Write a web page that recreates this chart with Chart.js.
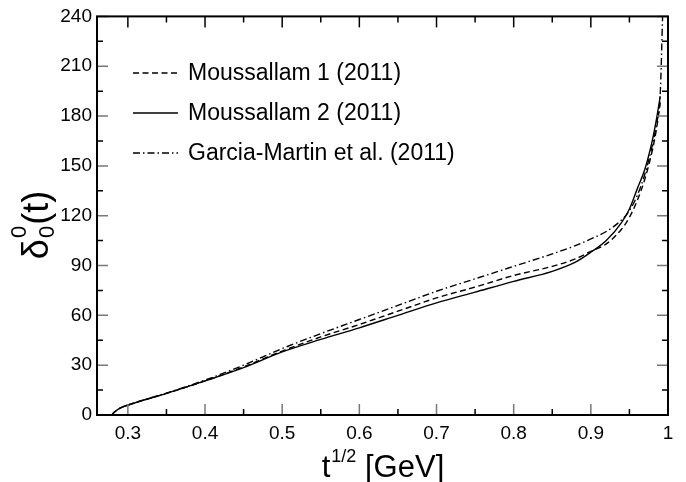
<!DOCTYPE html>
<html>
<head>
<meta charset="utf-8">
<script src="https://cdn.jsdelivr.net/npm/chart.js@4"></script>
<style>
  body { margin: 0; background: #fff; }
  #wrap { width: 686px; height: 482px; }
</style>
</head>
<body>
<div id="wrap"><canvas id="phaseChart" width="686" height="482"></canvas></div>
<script>
// sqrt(t) in GeV
const tGeV = [0.2791, 0.282, 0.286, 0.29, 0.3, 0.35, 0.4, 0.45, 0.5, 0.55, 0.6, 0.65, 0.7, 0.75, 0.8, 0.85, 0.88, 0.9, 0.92, 0.94, 0.95, 0.96, 0.97, 0.98, 0.985, 0.99];
const moussallam1 = [0, 1.5, 3, 4.2, 6, 13, 20.5, 29, 38.5, 47, 54.5, 62.5, 70.5, 77, 84, 89.5, 94, 98.5, 103, 112, 119, 129, 142, 160, 172, 188];
const moussallam2 = [0, 1.5, 3, 4.2, 6, 13, 20.5, 28.5, 38, 45.5, 52.5, 60, 67.5, 74, 80.5, 86.5, 92, 98, 105, 116, 124, 136, 148, 166, 178, 192];
const garciaT = [0.2791, 0.282, 0.286, 0.29, 0.3, 0.35, 0.4, 0.45, 0.5, 0.55, 0.6, 0.65, 0.7, 0.75, 0.8, 0.85, 0.88, 0.9, 0.92, 0.94, 0.95, 0.96, 0.97, 0.98, 0.985, 0.99, 0.993];
const garciaMartin = [0, 1.5, 3, 4.2, 6, 13.2, 21, 30, 40, 49, 57.5, 66, 74.5, 82, 89.5, 97, 102, 106, 110.5, 117.5, 123, 132, 145, 163, 175, 194, 240];

const xTicks = [0.3, 0.4, 0.5, 0.6, 0.7, 0.8, 0.9, 1.0];
const xTickLabels = ['0.3', '0.4', '0.5', '0.6', '0.7', '0.8', '0.9', '1'];
const yTicks = [0, 30, 60, 90, 120, 150, 180, 210, 240];

const FONT = "'Liberation Sans', Arial, sans-serif";

function pts(xs, ys) {
    return xs.map((x, i) => ({ x: x, y: ys[i] }));
}

// inward ticks on all four sides + frame
const frameTicks = {
    id: 'frameTicks',
    afterDatasetsDraw(chart) {
        const { ctx, chartArea: a, scales } = chart;
        const xs = scales.x, ys = scales.y;
        ctx.save();
        ctx.lineWidth = 1.5;
        // minor ticks
        ctx.strokeStyle = '#000';
        for (let v = 0.35; v < 1.0; v += 0.1) {
            const px = xs.getPixelForValue(v);
            ctx.beginPath();
            ctx.moveTo(px, a.bottom); ctx.lineTo(px, a.bottom - 6);
            ctx.moveTo(px, a.top); ctx.lineTo(px, a.top + 6);
            ctx.stroke();
        }
        for (let v = 15; v < 240; v += 30) {
            const py = ys.getPixelForValue(v);
            ctx.beginPath();
            ctx.moveTo(a.left, py); ctx.lineTo(a.left + 6, py);
            ctx.moveTo(a.right, py); ctx.lineTo(a.right - 6, py);
            ctx.stroke();
        }
        // major ticks
        ctx.strokeStyle = '#777';
        xTicks.forEach(v => {
            const px = xs.getPixelForValue(v);
            ctx.beginPath();
            ctx.moveTo(px, a.bottom); ctx.lineTo(px, a.bottom - 11);
            ctx.stroke();
            ctx.strokeStyle = '#000';
            ctx.beginPath();
            ctx.moveTo(px, a.top); ctx.lineTo(px, a.top + 11);
            ctx.stroke();
            ctx.strokeStyle = '#777';
        });
        yTicks.forEach(v => {
            const py = ys.getPixelForValue(v);
            ctx.beginPath();
            ctx.moveTo(a.left, py); ctx.lineTo(a.left + 11, py);
            ctx.moveTo(a.right, py); ctx.lineTo(a.right - 11, py);
            ctx.stroke();
        });
        ctx.strokeStyle = '#000';
        ctx.lineWidth = 2;
        ctx.strokeRect(a.left, a.top, a.right - a.left, a.bottom - a.top);
        ctx.restore();
    }
};

// legend with line styles taken from the datasets
const lineLegend = {
    id: 'lineLegend',
    afterDraw(chart) {
        const ctx = chart.ctx;
        const rows = [73, 113, 153];
        ctx.save();
        ctx.font = '23px ' + FONT;
        ctx.textBaseline = 'middle';
        ctx.fillStyle = '#000';
        chart.data.datasets.forEach((ds, i) => {
            const y = rows[i];
            ctx.strokeStyle = '#000';
            ctx.lineWidth = 1.4;
            ctx.setLineDash(ds.borderDash || []);
            ctx.beginPath();
            ctx.moveTo(133, y); ctx.lineTo(178, y);
            ctx.stroke();
            ctx.setLineDash([]);
            ctx.fillText(ds.label, 188, y + 1);
        });
        ctx.restore();
    }
};

// axis titles with super/subscripts
const axisTitles = {
    id: 'axisTitles',
    afterDraw(chart) {
        const ctx = chart.ctx;
        ctx.save();
        ctx.fillStyle = '#000';
        ctx.textBaseline = 'alphabetic';
        // x title: t^{1/2} [GeV]
        const big = '31px ' + FONT, small = '18px ' + FONT;
        ctx.font = big; const w1 = ctx.measureText('t').width;
        ctx.font = small; const w2 = ctx.measureText('1/2').width;
        ctx.font = big; const w3 = ctx.measureText(' [GeV]').width;
        let x = 383 - (w1 + w2 + w3 + 1) / 2;
        const base = 477;
        ctx.font = big; ctx.fillText('t', x, base); x += w1 + 1;
        ctx.font = small; ctx.fillText('1/2', x, base - 15); x += w2;
        ctx.font = big; ctx.fillText(' [GeV]', x, base);

        // y title: delta_0^0(t), rotated
        ctx.translate(48, 226);
        ctx.rotate(-Math.PI / 2);
        const yb = '36px ' + FONT, ys = '22px ' + FONT;
        ctx.font = yb; const d = ctx.measureText('\u03b4').width;
        ctx.font = ys; const z = ctx.measureText('0').width;
        ctx.font = yb; const p = ctx.measureText('(t)').width;
        let u = -(d + z + p) / 2;
        ctx.font = yb; ctx.fillText('\u03b4', u, 0); u += d + 1;
        ctx.font = ys; ctx.fillText('0', u, 6); ctx.fillText('0', u, -22); u += z + 1;
        ctx.font = yb; ctx.fillText('(t)', u, 0);
        ctx.restore();
    }
};

const ctx = document.getElementById('phaseChart').getContext('2d');

new Chart(ctx, {
    type: 'scatter',
    data: {
        datasets: [{
            label: 'Moussallam 1 (2011)',
            data: pts(tGeV, moussallam1),
            borderDash: [6, 3.5]
        }, {
            label: 'Moussallam 2 (2011)',
            data: pts(tGeV, moussallam2),
            borderDash: []
        }, {
            label: 'Garcia-Martin et al. (2011)',
            data: pts(garciaT, garciaMartin),
            borderDash: [7, 3, 1.5, 3]
        }]
    },
    options: {
        responsive: false,
        animation: false,
        showLine: true,
        layout: { padding: { left: 0, top: 16, right: 18, bottom: 0 } },
        elements: {
            point: { radius: 0 },
            line: {
                borderColor: '#000',
                borderWidth: 1.4,
                fill: false,
                cubicInterpolationMode: 'monotone'
            }
        },
        plugins: {
            legend: { display: false },
            tooltip: { enabled: false }
        },
        scales: {
            x: {
                type: 'linear',
                min: 0.26,
                max: 1.0,
                afterFit(scale) { scale.height = 67; },
                afterBuildTicks(scale) { scale.ticks = xTicks.map(v => ({ value: v })); },
                grid: { display: false, drawTicks: false },
                border: { display: false },
                ticks: {
                    padding: 7,
                    color: '#000',
                    font: { family: FONT, size: 19 },
                    callback: (v) => xTickLabels[xTicks.findIndex(t => Math.abs(t - v) < 1e-6)],
                    maxRotation: 0
                }
            },
            y: {
                min: 0,
                max: 240,
                afterFit(scale) { scale.width = 97; },
                afterBuildTicks(scale) { scale.ticks = yTicks.map(v => ({ value: v })); },
                grid: { display: false, drawTicks: false },
                border: { display: false },
                ticks: {
                    padding: 5,
                    color: '#000',
                    font: { family: FONT, size: 19 }
                }
            }
        }
    },
    plugins: [frameTicks, lineLegend, axisTitles]
});
</script>
</body>
</html>
